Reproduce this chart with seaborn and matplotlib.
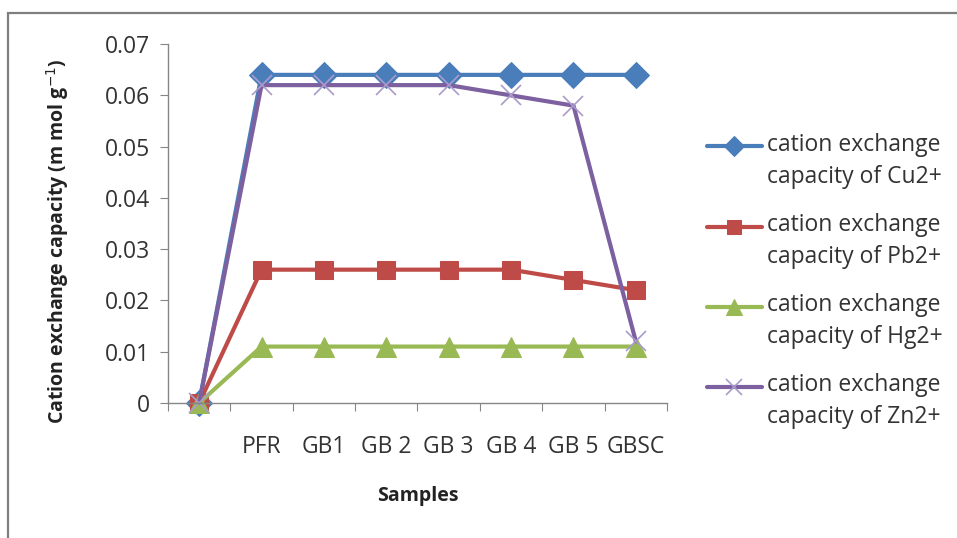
import numpy as np
import pandas as pd
import matplotlib.pyplot as plt
import matplotlib.patches as mpatches
from matplotlib.lines import Line2D
from matplotlib.ticker import FixedLocator, NullFormatter, FixedFormatter
import seaborn as sns

# dados
amostras = ['', 'PFR', 'GB1', 'GB 2', 'GB 3', 'GB 4', 'GB 5', 'GBSC']
cu = [0, 0.064, 0.064, 0.064, 0.064, 0.064, 0.064, 0.064]
pb = [0, 0.026, 0.026, 0.026, 0.026, 0.026, 0.024, 0.022]
hg = [0, 0.011, 0.011, 0.011, 0.011, 0.011, 0.011, 0.011]
zn = [0, 0.062, 0.062, 0.062, 0.062, 0.060, 0.058, 0.012]
series = ['cation exchange\ncapacity of Cu2+', 'cation exchange\ncapacity of Pb2+',
          'cation exchange\ncapacity of Hg2+', 'cation exchange\ncapacity of Zn2+']

sns.set_style('white')
plt.rcParams['font.family'] = ['Open Sans', 'DejaVu Sans']

pos = np.arange(len(amostras))
df = pd.concat([
    pd.DataFrame({'pos': pos, 'valor': v, 'serie': s})
    for v, s in zip([cu, pb, hg, zn], series)
])

cores = ['#4A7EBB', '#BE4B48', '#98B954', '#7D60A0']
marcadores = ['D', 's', '^', 'x']
tamanhos = [13, 13, 14, 15]

fig = plt.figure(figsize=(9.57, 5.38), dpi=100)
ax = fig.add_axes([0.1755, 0.251, 0.5215, 0.667])

for (s, d), cor, mk, ms in zip(df.groupby('serie', sort=False), cores, marcadores, tamanhos):
    extra = dict(markeredgecolor=cor)
    if mk == 'x':
        extra = dict(markeredgecolor='#A99BCB', markeredgewidth=1.2)
    sns.lineplot(data=d, x='pos', y='valor', color=cor, marker=mk, markersize=ms,
                 linewidth=3.0, label=s, ax=ax, clip_on=False, **extra)

ax.set_xlim(-0.5, len(amostras) - 0.5)
ax.set_ylim(0, 0.07)
ax.set_yticks(np.arange(0, 0.0701, 0.01))
ax.set_yticklabels(['0', '0.01', '0.02', '0.03', '0.04', '0.05', '0.06', '0.07'])
ax.xaxis.set_major_locator(FixedLocator(np.arange(-0.5, len(amostras), 1.0)))
ax.xaxis.set_major_formatter(NullFormatter())
ax.xaxis.set_minor_locator(FixedLocator(pos))
ax.xaxis.set_minor_formatter(FixedFormatter(amostras))
ax.tick_params(axis='x', which='major', length=6, color='#868686', direction='out')
ax.tick_params(axis='x', which='minor', length=0, pad=23, labelsize=16.5, colors='#333333')
ax.tick_params(axis='y', length=6, color='#868686', direction='out', labelsize=16.5,
               colors='#333333', pad=7)
ax.tick_params(axis='both', bottom=True, left=True, which='both')
for lado in ['top', 'right']:
    ax.spines[lado].set_visible(False)
for lado in ['left', 'bottom']:
    ax.spines[lado].set_color('#868686')
    ax.spines[lado].set_linewidth(1.0)

ax.set_xlabel('Samples', fontsize=14, fontweight='bold', color='#222222')
ax.xaxis.set_label_coords(0.5, -0.232)
ax.set_ylabel('Cation exchange capacity (m mol g$^{-1}$)', fontsize=14,
              fontweight='bold', color='#222222')
ax.yaxis.set_label_coords(-0.194, 0.45)

leg = ax.legend(loc='center left', bbox_to_anchor=(1.061, 0.34), frameon=False,
                fontsize=16.5, handlelength=2.4, labelspacing=1.05, handletextpad=0.25,
                borderaxespad=0, markerscale=0.8)
for t in leg.get_texts():
    t.set_color('#333333')
    t.set_linespacing(1.45)
# marcador alinhado com a primeira linha do texto, como no Excel
for linha in leg.findobj(Line2D):
    linha.set_ydata(np.asarray(linha.get_ydata()) + 11)

fig.patches.append(mpatches.Rectangle((8 / 957, -0.05), 1.1, 1.05 - 13 / 538,
                                      transform=fig.transFigure, fill=False,
                                      edgecolor='#7F7F7F', linewidth=1.6))

plt.savefig('out.png', dpi=100)
plt.close()
